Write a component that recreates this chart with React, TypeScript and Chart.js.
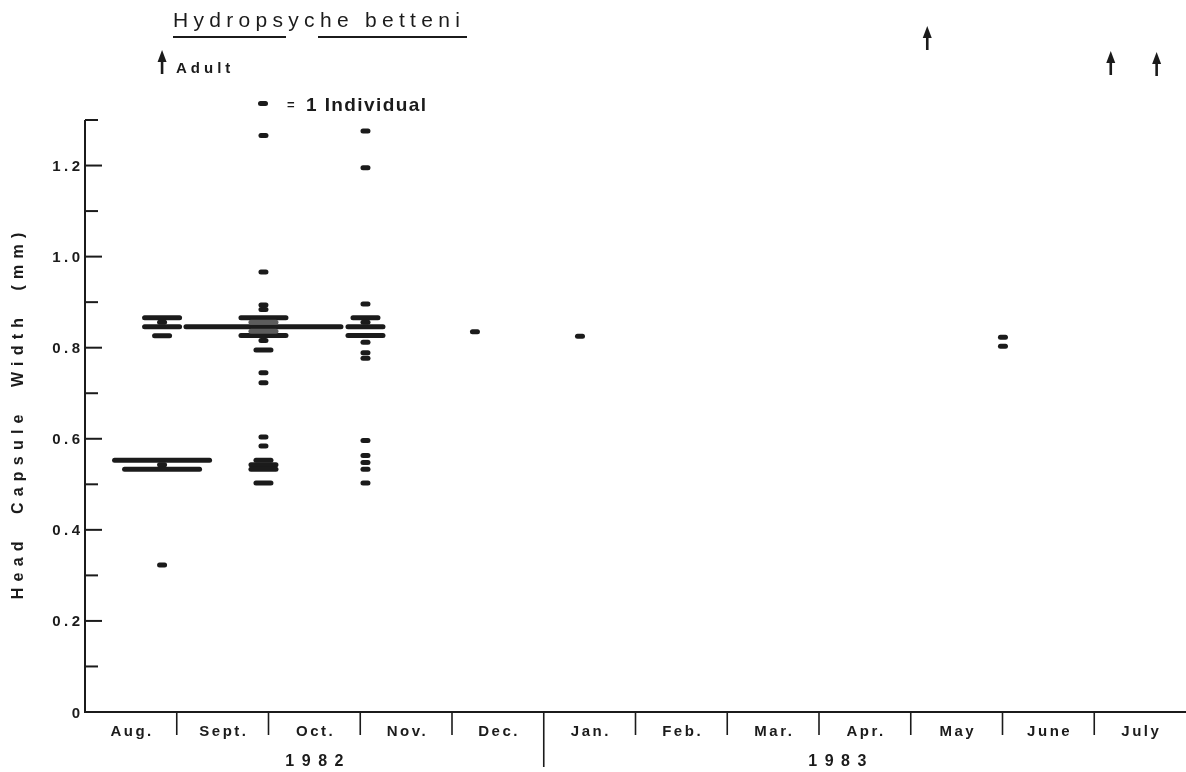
import React, { useEffect, useRef } from "react";
import { Chart, registerables } from "chart.js";

Chart.register(...registerables);

// ---------- axis content ----------
const MONTHS = ["Aug.", "Sept.", "Oct.", "Nov.", "Dec.", "Jan.", "Feb.", "Mar.", "Apr.", "May", "June", "July"];
const YEAR_LABELS = ["1982", "1983"];
const YEAR_LABEL_AT = [2.5, 8.2]; // in month units
const YEAR_BREAK_AT = 5; // Dec | Jan divider
const Y_TICKS = [0.1, 0.2, 0.3, 0.4, 0.5, 0.6, 0.7, 0.8, 0.9, 1.0, 1.1, 1.2, 1.3];
const Y_LABEL_VALUES = [0, 0.2, 0.4, 0.6, 0.8, 1.0, 1.2];
const Y_LABEL_TEXT = ["0", "0.2", "0.4", "0.6", "0.8", "1.0", "1.2"];

// ---------- data: sampling dates (month units from 1 Aug 1982) ----------
const SAMPLE_DATES = [0.84, 1.945, 3.057, 4.25, 5.395, 10.005];

// head capsule widths (mm) and number of individuals at each width
const AUG_WIDTHS = [0.866, 0.856, 0.846, 0.826, 0.553, 0.543, 0.533, 0.323];
const AUG_COUNTS = [4, 1, 4, 2, 10, 1, 8, 1];

const SEPT_WIDTHS = [1.266, 0.966, 0.894, 0.884, 0.866, 0.846, 0.827, 0.816, 0.795, 0.745, 0.723, 0.604, 0.584, 0.553, 0.543, 0.533, 0.503];
const SEPT_COUNTS = [1, 1, 1, 1, 5, 16, 5, 1, 2, 1, 1, 1, 1, 2, 3, 3, 2];
const SEPT_DENSE_WIDTHS = [0.856, 0.836];
const SEPT_DENSE_COUNTS = [3, 3];

const NOV_WIDTHS = [1.276, 1.195, 0.896, 0.866, 0.856, 0.846, 0.827, 0.812, 0.789, 0.777, 0.596, 0.563, 0.548, 0.533, 0.503];
const NOV_COUNTS = [1, 1, 1, 3, 1, 4, 4, 1, 1, 1, 1, 1, 1, 1, 1];

const DEC_WIDTHS = [0.835];
const DEC_COUNTS = [1];
const JAN_WIDTHS = [0.825];
const JAN_COUNTS = [1];
const JUNE_WIDTHS = [0.823, 0.803];
const JUNE_COUNTS = [1, 1];

// adult emergence records (month units)
const ADULT_DATES = [0.84, 9.18, 11.18, 11.68];
const ARROW_TOPS_PX = [50, 26, 51, 52];

// ---------- style ----------
const INK = "#1b1b1b";
const DASH_UNIT = 10; // px per individual
const DASH_THICK = 5;
const FONT = "'Liberation Sans', Arial, Helvetica, sans-serif";

type Pt = { x: number; y: number; n: number };

function pts(date: number, widths: number[], counts: number[]): Pt[] {
  return widths.map((w, i) => ({ x: date, y: w, n: counts[i] }));
}

function text(
  ctx: CanvasRenderingContext2D,
  s: string,
  x: number,
  y: number,
  font: string,
  spacing: number,
  align: CanvasTextAlign
) {
  ctx.save();
  ctx.font = font;
  (ctx as any).letterSpacing = spacing + "px";
  ctx.textAlign = align;
  ctx.textBaseline = "alphabetic";
  ctx.fillStyle = INK;
  let dx = 0;
  if (align === "center") dx = spacing / 2;
  else if (align === "right") dx = spacing;
  ctx.fillText(s, x + dx, y);
  ctx.restore();
}

function arrow(ctx: CanvasRenderingContext2D, x: number, top: number) {
  ctx.save();
  ctx.fillStyle = INK;
  ctx.strokeStyle = INK;
  ctx.lineWidth = 2.6;
  ctx.beginPath();
  ctx.moveTo(x, top + 8);
  ctx.lineTo(x, top + 24);
  ctx.stroke();
  ctx.beginPath();
  ctx.moveTo(x, top);
  ctx.lineTo(x - 4.5, top + 12);
  ctx.lineTo(x + 4.5, top + 12);
  ctx.closePath();
  ctx.fill();
  ctx.restore();
}

const decorPlugin = {
  id: "decor",
  beforeDatasetsDraw(chart: any) {
    chart.ctx.lineCap = "round";
  },
  afterDatasetsDraw(chart: any) {
    chart.ctx.lineCap = "butt";
  },
  afterDraw(chart: any) {
    const ctx: CanvasRenderingContext2D = chart.ctx;
    const xs = chart.scales.x;
    const ys = chart.scales.y;
    const { left, right, top, bottom } = chart.chartArea;
    ctx.save();
    ctx.strokeStyle = INK;
    ctx.lineWidth = 2;
    // axes
    ctx.beginPath();
    ctx.moveTo(left, ys.getPixelForValue(1.3));
    ctx.lineTo(left, bottom);
    ctx.lineTo(right, bottom);
    ctx.stroke();
    // y ticks (inward)
    Y_TICKS.forEach((v) => {
      const y = ys.getPixelForValue(v);
      const major = Y_LABEL_VALUES.some((m) => Math.abs(m - v) < 1e-6);
      ctx.beginPath();
      ctx.moveTo(left, y);
      ctx.lineTo(left + (major ? 17 : 13), y);
      ctx.stroke();
    });
    // y labels
    Y_LABEL_VALUES.forEach((v, i) => {
      const y = ys.getPixelForValue(v);
      text(ctx, Y_LABEL_TEXT[i], 80, y + 5.5, `bold 15px ${FONT}`, 3.5, "right");
    });
    // x dividers
    for (let k = 1; k < MONTHS.length; k++) {
      const x = xs.getPixelForValue(k);
      ctx.beginPath();
      ctx.moveTo(x, bottom);
      ctx.lineTo(x, bottom + (k === YEAR_BREAK_AT ? 55 : 23));
      ctx.lineWidth = 1.6;
      ctx.stroke();
    }
    // month labels
    MONTHS.forEach((m, i) => {
      text(ctx, m, xs.getPixelForValue(i + 0.5), bottom + 24, `bold 15px ${FONT}`, 2.5, "center");
    });
    YEAR_LABELS.forEach((s, i) => {
      text(ctx, s, xs.getPixelForValue(YEAR_LABEL_AT[i]), bottom + 54, `bold 16px ${FONT}`, 7.5, "center");
    });
    // y title
    ctx.save();
    ctx.translate(23, (top + bottom) / 2);
    ctx.rotate(-Math.PI / 2);
    text(ctx, "Head  Capsule  Width  (mm)", 0, 0, `bold 16px ${FONT}`, 6.2, "center");
    ctx.restore();

    // title
    text(ctx, "Hydropsyche betteni", 173, 27, `21px ${FONT}`, 5.3, "left");
    ctx.lineWidth = 2;
    ctx.beginPath();
    ctx.moveTo(173, 37);
    ctx.lineTo(286, 37);
    ctx.moveTo(318, 37);
    ctx.lineTo(467, 37);
    ctx.stroke();

    // adult arrows
    ADULT_DATES.forEach((d, i) => arrow(ctx, xs.getPixelForValue(d), ARROW_TOPS_PX[i]));
    text(ctx, "Adult", 176, 73, `bold 15px ${FONT}`, 4, "left");

    // legend
    ctx.lineCap = "round";
    ctx.lineWidth = DASH_THICK;
    ctx.beginPath();
    ctx.moveTo(260.5, 103.5);
    ctx.lineTo(265.5, 103.5);
    ctx.stroke();
    ctx.lineCap = "butt";
    text(ctx, "=", 287, 109, `bold 13px ${FONT}`, 0, "left");
    text(ctx, "1 Individual", 306, 111, `bold 19px ${FONT}`, 1.4, "left");
    ctx.restore();
  },
};

export default function App() {
  const ref = useRef<HTMLCanvasElement>(null);
  useEffect(() => {
    const radius = (c: any) => (c.raw ? c.raw.n * (DASH_UNIT / 2) - DASH_THICK / 2 : 0);
    const mk = (label: string, data: Pt[], color: string, order: number) => ({
      label,
      data,
      order,
      showLine: false,
      pointStyle: "line",
      borderColor: color,
      backgroundColor: color,
      borderWidth: DASH_THICK,
      pointBorderWidth: DASH_THICK,
      pointRadius: radius,
      pointHoverRadius: radius,
      pointHoverBorderWidth: DASH_THICK,
      clip: false,
    });
    const black: Pt[] = [
      ...pts(SAMPLE_DATES[0], AUG_WIDTHS, AUG_COUNTS),
      ...pts(SAMPLE_DATES[1], SEPT_WIDTHS, SEPT_COUNTS),
      ...pts(SAMPLE_DATES[2], NOV_WIDTHS, NOV_COUNTS),
      ...pts(SAMPLE_DATES[3], DEC_WIDTHS, DEC_COUNTS),
      ...pts(SAMPLE_DATES[4], JAN_WIDTHS, JAN_COUNTS),
      ...pts(SAMPLE_DATES[5], JUNE_WIDTHS, JUNE_COUNTS),
    ];
    const dense: Pt[] = pts(SAMPLE_DATES[1], SEPT_DENSE_WIDTHS, SEPT_DENSE_COUNTS);
    const chart = new Chart(ref.current as HTMLCanvasElement, {
      type: "scatter",
      data: {
        datasets: [mk("dense", dense, "#5c5c5c", 0), mk("individuals", black, INK, 1)] as any,
      },
      options: {
        animation: false,
        responsive: false,
        devicePixelRatio: 1,
        events: [],
        layout: { autoPadding: false, padding: { left: 85, right: 0, top: 120, bottom: 60 } },
        scales: {
          x: { type: "linear", min: 0, max: 12, display: false },
          y: { type: "linear", min: 0, max: 1.3, display: false },
        },
        plugins: {
          legend: { display: false },
          tooltip: { enabled: false },
          title: { display: false },
        },
      } as any,
      plugins: [decorPlugin],
    });
    return () => chart.destroy();
  }, []);
  return (
    <div style={{ position: "fixed", left: 0, top: 0, width: 1186, height: 772, background: "#fff" }}>
      <canvas ref={ref} width={1186} height={772} style={{ display: "block" }} />
    </div>
  );
}
